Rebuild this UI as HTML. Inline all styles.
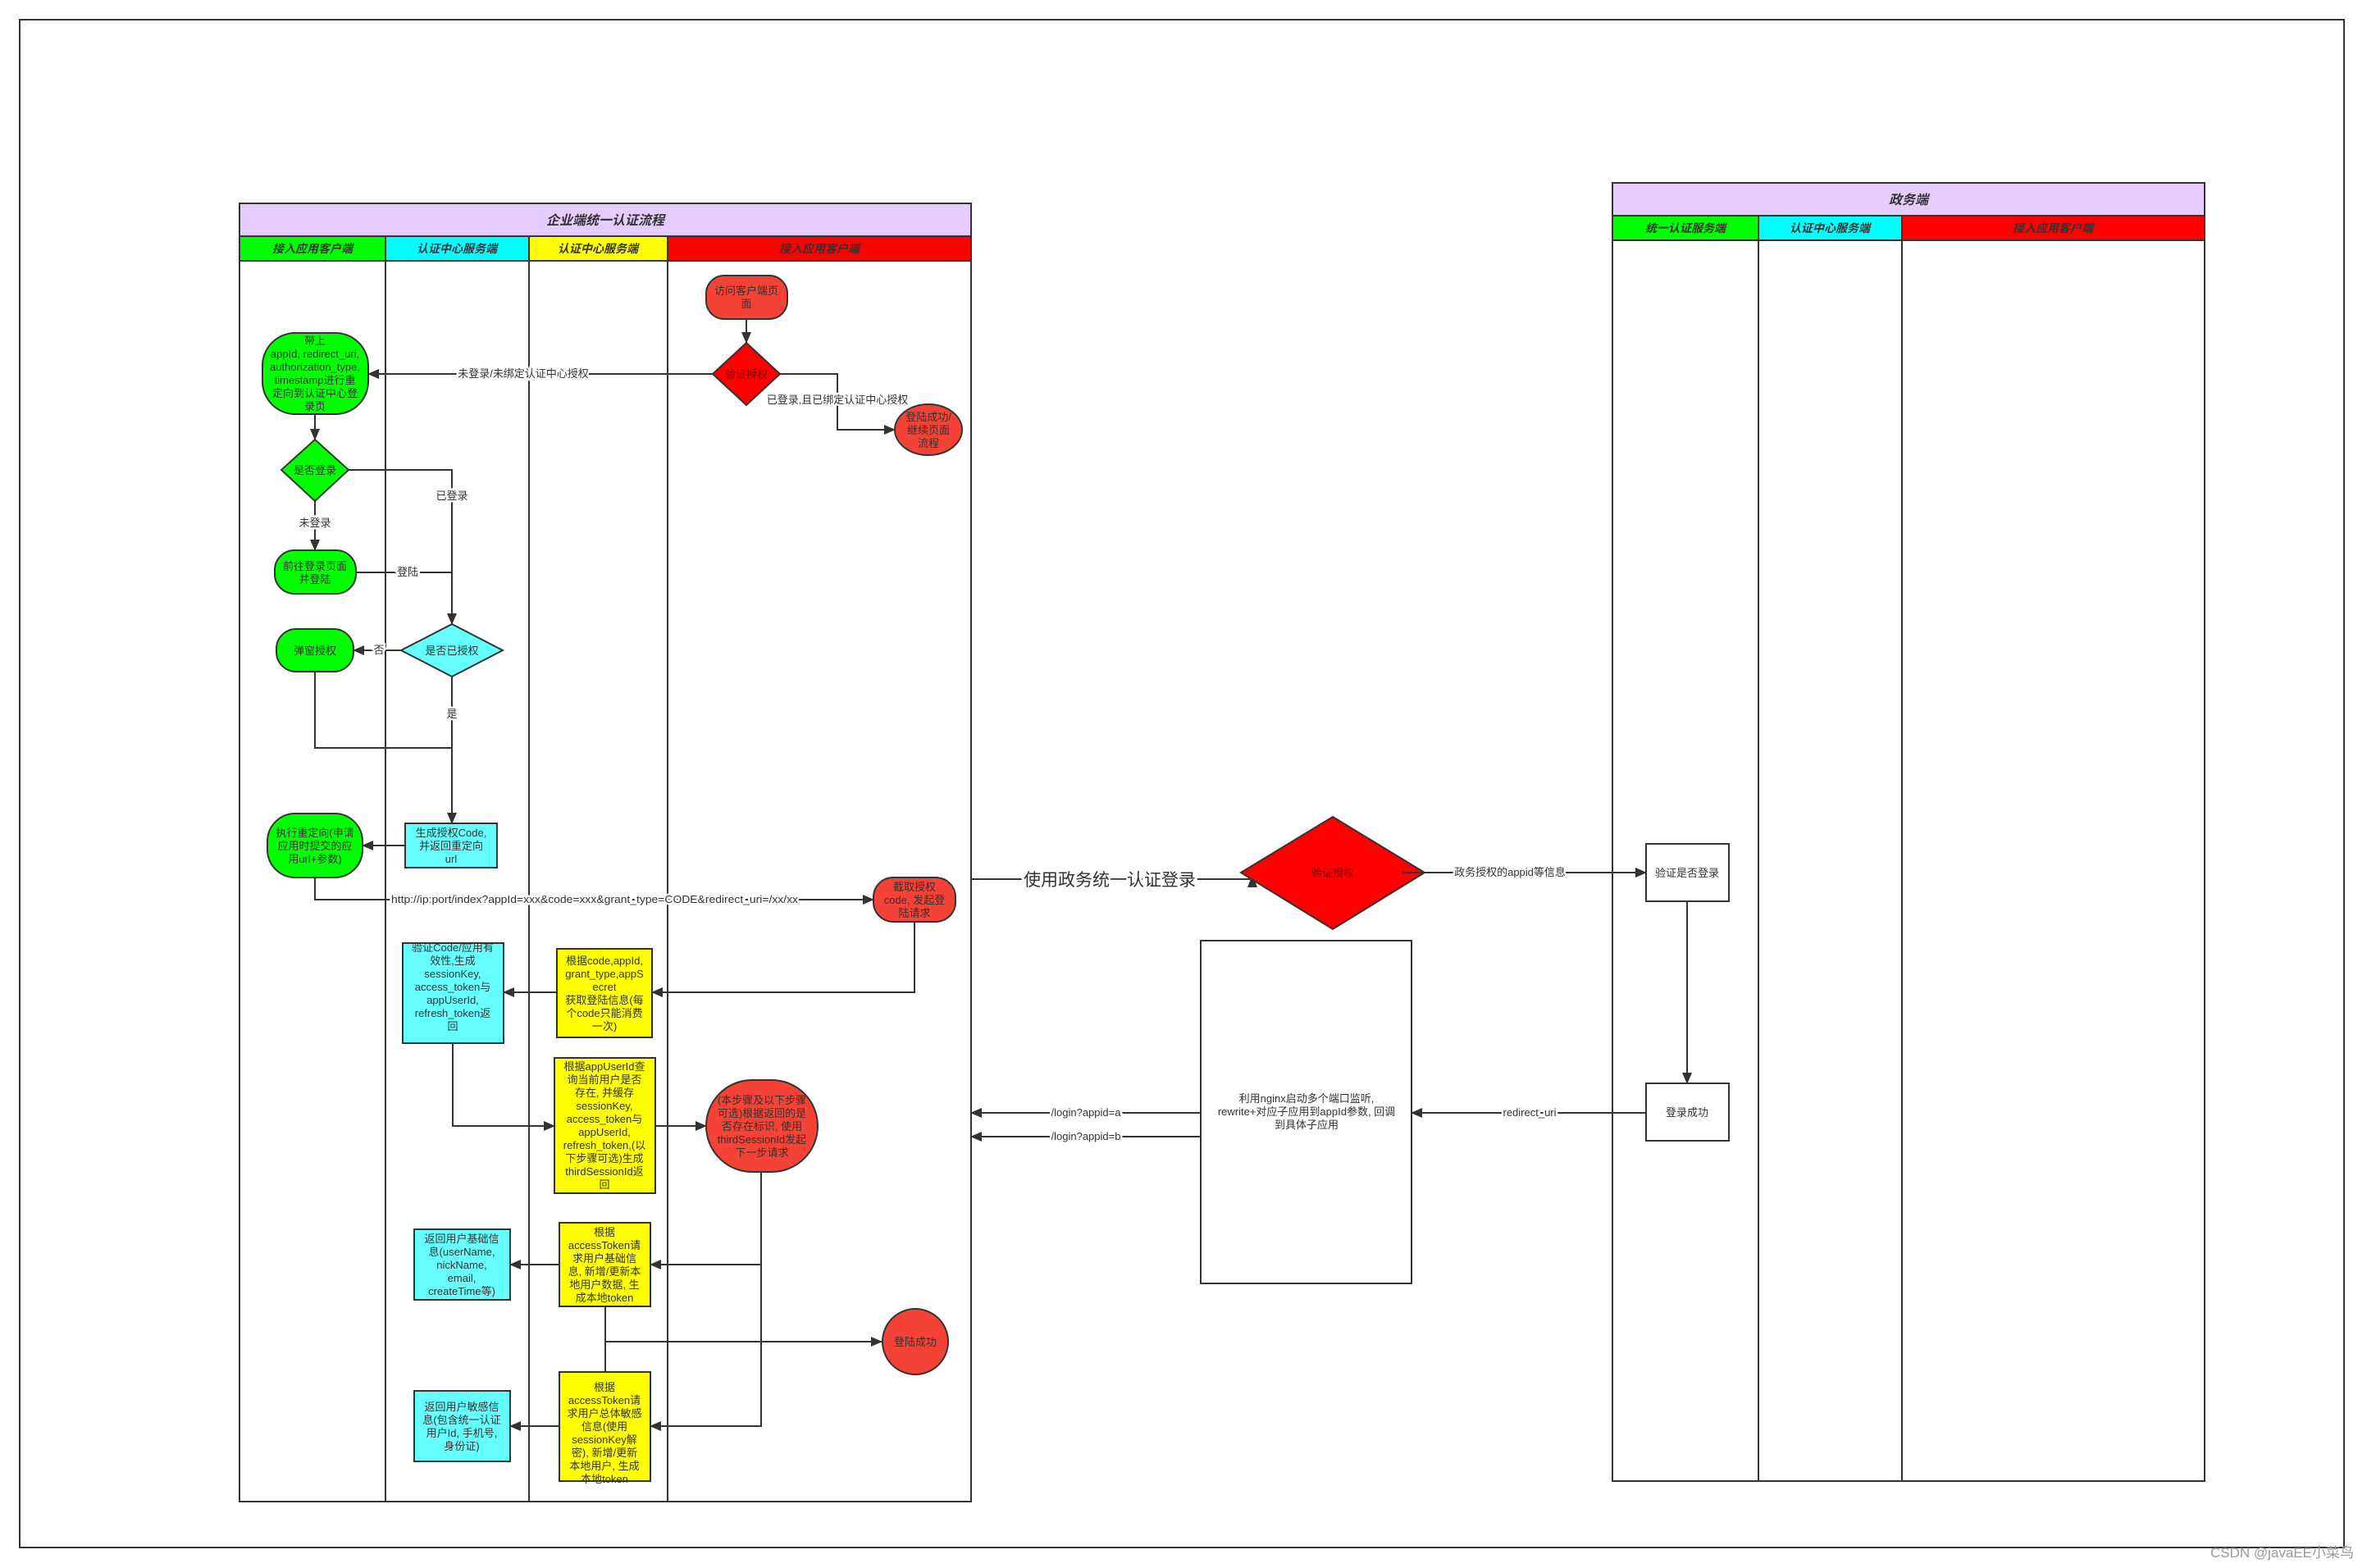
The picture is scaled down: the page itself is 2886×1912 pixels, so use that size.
<!DOCTYPE html>
<html><head><meta charset="utf-8"><style>
html,body{margin:0;padding:0;background:#fff;}
svg{display:block;}
text{font-family:"Liberation Sans","Noto Sans CJK SC",sans-serif;fill:#333;}
.n{font-size:13px;text-anchor:middle;}
.h{font-size:14px;font-style:italic;font-weight:bold;text-anchor:middle;}
.lb{font-size:13px;text-anchor:middle;stroke:#fff;stroke-width:5px;paint-order:stroke;}
.ln{fill:none;stroke:#333;stroke-width:2;}
.bx{stroke:#333;stroke-width:2;}
</style></head><body>
<svg width="2886" height="1912" viewBox="0 0 2886 1912" xmlns="http://www.w3.org/2000/svg">
<defs>
<marker id="a" markerWidth="14" markerHeight="12" refX="13" refY="6" orient="auto" markerUnits="userSpaceOnUse">
<path d="M0,0 L14,6 L0,12 z" fill="#333"/></marker>
</defs>
<rect x="0" y="0" width="2886" height="1912" fill="#fff"/>
<rect x="24" y="24" width="2834" height="1863" fill="none" stroke="#333" stroke-width="2"/>

<!-- LEFT POOL -->
<rect x="292" y="248" width="892" height="40" fill="#e5ccff" class="bx"/>
<text x="738" y="274" class="h" style="font-size:16px">企业端统一认证流程</text>
<rect x="292" y="288" width="178" height="30" fill="#00ff00" class="bx"/>
<rect x="470" y="288" width="175" height="30" fill="#00ffff" class="bx"/>
<rect x="645" y="288" width="169" height="30" fill="#ffff00" class="bx"/>
<rect x="814" y="288" width="370" height="30" fill="#ff0000" class="bx"/>
<text x="381" y="308" class="h">接入应用客户端</text>
<text x="557" y="308" class="h">认证中心服务端</text>
<text x="729" y="308" class="h">认证中心服务端</text>
<text x="999" y="308" class="h">接入应用客户端</text>
<rect x="292" y="318" width="892" height="1513" fill="none" class="bx"/>
<line x1="470" y1="318" x2="470" y2="1831" class="ln"/>
<line x1="645" y1="318" x2="645" y2="1831" class="ln"/>
<line x1="814" y1="318" x2="814" y2="1831" class="ln"/>

<!-- RIGHT POOL -->
<rect x="1966" y="223" width="722" height="40" fill="#e5ccff" class="bx"/>
<text x="2327" y="249" class="h" style="font-size:16px">政务端</text>
<rect x="1966" y="263" width="178" height="30" fill="#00ff00" class="bx"/>
<rect x="2144" y="263" width="175" height="30" fill="#00ffff" class="bx"/>
<rect x="2319" y="263" width="369" height="30" fill="#ff0000" class="bx"/>
<text x="2055" y="283" class="h">统一认证服务端</text>
<text x="2231" y="283" class="h">认证中心服务端</text>
<text x="2503" y="283" class="h">接入应用客户端</text>
<rect x="1966" y="293" width="722" height="1513" fill="none" class="bx"/>
<line x1="2144" y1="293" x2="2144" y2="1806" class="ln"/>
<line x1="2319" y1="293" x2="2319" y2="1806" class="ln"/>

<!-- CONNECTORS LEFT -->
<line x1="910" y1="389" x2="910" y2="418" class="ln" marker-end="url(#a)"/>
<polyline points="869,456 449,456" class="ln" marker-end="url(#a)"/>
<text x="638" y="460" class="lb">未登录/未绑定认证中心授权</text>
<polyline points="951,456 1021,456 1021,524 1091,524" class="ln" marker-end="url(#a)"/>
<text x="1021" y="492" class="lb">已登录,且已绑定认证中心授权</text>
<line x1="384" y1="505" x2="384" y2="536" class="ln" marker-end="url(#a)"/>
<polyline points="425,573 551,573 551,761" class="ln" marker-end="url(#a)"/>
<text x="551" y="609" class="lb">已登录</text>
<line x1="384" y1="611" x2="384" y2="671" class="ln" marker-end="url(#a)"/>
<text x="384" y="642" class="lb">未登录</text>
<polyline points="434,698 551,698" class="ln"/>
<text x="497" y="702" class="lb">登陆</text>
<line x1="489" y1="793" x2="431" y2="793" class="ln" marker-end="url(#a)"/>
<text x="462" y="797" class="lb">否</text>
<polyline points="384,819 384,912 551,912" class="ln"/>
<line x1="551" y1="825" x2="551" y2="1004" class="ln" marker-end="url(#a)"/>
<text x="551" y="875" class="lb">是</text>
<line x1="494" y1="1031" x2="442" y2="1031" class="ln" marker-end="url(#a)"/>
<polyline points="384,1070 384,1097 1065,1097" class="ln" marker-end="url(#a)"/>
<text x="725" y="1101" class="lb" textLength="496" lengthAdjust="spacingAndGlyphs">http://ip:port/index?appId=xxx&amp;code=xxx&amp;grant_type=CODE&amp;redirect_uri=/xx/xx</text>
<polyline points="1115,1124 1115,1210 795,1210" class="ln" marker-end="url(#a)"/>
<line x1="679" y1="1210" x2="614" y2="1210" class="ln" marker-end="url(#a)"/>
<polyline points="552,1272 552,1373 676,1373" class="ln" marker-end="url(#a)"/>
<line x1="799" y1="1373" x2="861" y2="1373" class="ln" marker-end="url(#a)"/>
<polyline points="928,1429 928,1739 793,1739" class="ln" marker-end="url(#a)"/>
<line x1="928" y1="1542" x2="793" y2="1542" class="ln" marker-end="url(#a)"/>
<line x1="682" y1="1542" x2="622" y2="1542" class="ln" marker-end="url(#a)"/>
<line x1="738" y1="1593" x2="738" y2="1673" class="ln"/>
<line x1="738" y1="1636" x2="1075" y2="1636" class="ln" marker-end="url(#a)"/>
<line x1="682" y1="1739" x2="622" y2="1739" class="ln" marker-end="url(#a)"/>

<!-- LEFT NODES -->
<rect x="861" y="336" width="99" height="53" rx="22" fill="#f44336" class="bx"/>
<text class="n" x="910" y="359"><tspan x="910">访问客户端页</tspan><tspan x="910" dy="16">面</tspan></text>
<polygon points="910,418 951,456 910,494 869,456" fill="#ff0000" class="bx"/>
<text class="n" x="910" y="461" style="fill:#7a0000">验证授权</text>
<rect x="320" y="406" width="129" height="99" rx="40" fill="#00ff00" class="bx"/>
<text class="n" x="384" y="420"><tspan x="384">带上</tspan><tspan x="384" dy="16">appId, redirect_uri,</tspan><tspan x="384" dy="16">authorization_type,</tspan><tspan x="384" dy="16">timestamp进行重</tspan><tspan x="384" dy="16">定向到认证中心登</tspan><tspan x="384" dy="16">录页</tspan></text>
<ellipse cx="1132" cy="524" rx="41" ry="31" fill="#f44336" class="bx"/>
<text class="n" x="1132" y="513"><tspan x="1132">登陆成功/</tspan><tspan x="1132" dy="16">继续页面</tspan><tspan x="1132" dy="16">流程</tspan></text>
<polygon points="384,536 425,573 384,611 343,573" fill="#00ff00" class="bx"/>
<text class="n" x="384" y="578">是否登录</text>
<rect x="335" y="671" width="99" height="53" rx="24" fill="#00ff00" class="bx"/>
<text class="n" x="384" y="695"><tspan x="384">前往登录页面</tspan><tspan x="384" dy="16">并登陆</tspan></text>
<polygon points="551,761 613,793 551,825 489,793" fill="#66ffff" class="bx"/>
<text class="n" x="551" y="798">是否已授权</text>
<rect x="337" y="767" width="94" height="52" rx="24" fill="#00ff00" class="bx"/>
<text class="n" x="384" y="798">弹窗授权</text>
<rect x="494" y="1004" width="112" height="54" fill="#66ffff" class="bx"/>
<text class="n" x="550" y="1020"><tspan x="550">生成授权Code,</tspan><tspan x="550" dy="16">并返回重定向</tspan><tspan x="550" dy="16">url</tspan></text>
<rect x="326" y="992" width="116" height="78" rx="34" fill="#00ff00" class="bx"/>
<text class="n" x="384" y="1020"><tspan x="384">执行重定向(申请</tspan><tspan x="384" dy="16">应用时提交的应</tspan><tspan x="384" dy="16">用url+参数)</tspan></text>
<rect x="1065" y="1070" width="100" height="54" rx="24" fill="#f44336" class="bx"/>
<text class="n" x="1115" y="1086"><tspan x="1115">截取授权</tspan><tspan x="1115" dy="16">code, 发起登</tspan><tspan x="1115" dy="16">陆请求</tspan></text>
<rect x="679" y="1157" width="116" height="108" fill="#ffff00" class="bx"/>
<text class="n" x="737" y="1176"><tspan x="737">根据code,appId,</tspan><tspan x="737" dy="16">grant_type,appS</tspan><tspan x="737" dy="16">ecret</tspan><tspan x="737" dy="16">获取登陆信息(每</tspan><tspan x="737" dy="16">个code只能消费</tspan><tspan x="737" dy="16">一次)</tspan></text>
<rect x="491" y="1150" width="123" height="122" fill="#66ffff" class="bx"/>
<text class="n" x="552" y="1160"><tspan x="552">验证Code/应用有</tspan><tspan x="552" dy="16">效性,生成</tspan><tspan x="552" dy="16">sessionKey,</tspan><tspan x="552" dy="16">access_token与</tspan><tspan x="552" dy="16">appUserId,</tspan><tspan x="552" dy="16">refresh_token返</tspan><tspan x="552" dy="16">回</tspan></text>
<rect x="676" y="1290" width="123" height="165" fill="#ffff00" class="bx"/>
<text class="n" x="737" y="1305"><tspan x="737">根据appUserId查</tspan><tspan x="737" dy="16">询当前用户是否</tspan><tspan x="737" dy="16">存在, 并缓存</tspan><tspan x="737" dy="16">sessionKey,</tspan><tspan x="737" dy="16">access_token与</tspan><tspan x="737" dy="16">appUserId,</tspan><tspan x="737" dy="16">refresh_token,(以</tspan><tspan x="737" dy="16">下步骤可选)生成</tspan><tspan x="737" dy="16">thirdSessionId返</tspan><tspan x="737" dy="16">回</tspan></text>
<rect x="861" y="1317" width="136" height="112" rx="56" fill="#f44336" class="bx"/>
<text class="n" x="929" y="1346"><tspan x="929">(本步骤及以下步骤</tspan><tspan x="929" dy="16">可选)根据返回的是</tspan><tspan x="929" dy="16">否存在标识, 使用</tspan><tspan x="929" dy="16">thirdSessionId发起</tspan><tspan x="929" dy="16">下一步请求</tspan></text>
<rect x="682" y="1491" width="111" height="102" fill="#ffff00" class="bx"/>
<text class="n" x="737" y="1507"><tspan x="737">根据</tspan><tspan x="737" dy="16">accessToken请</tspan><tspan x="737" dy="16">求用户基础信</tspan><tspan x="737" dy="16">息, 新增/更新本</tspan><tspan x="737" dy="16">地用户数据, 生</tspan><tspan x="737" dy="16">成本地token</tspan></text>
<rect x="505" y="1499" width="117" height="86" fill="#66ffff" class="bx"/>
<text class="n" x="563" y="1515"><tspan x="563">返回用户基础信</tspan><tspan x="563" dy="16">息(userName,</tspan><tspan x="563" dy="16">nickName,</tspan><tspan x="563" dy="16">email,</tspan><tspan x="563" dy="16">createTime等)</tspan></text>
<circle cx="1116" cy="1636" r="40" fill="#f44336" class="bx"/>
<text class="n" x="1116" y="1641">登陆成功</text>
<rect x="682" y="1673" width="111" height="133" fill="#ffff00" class="bx"/>
<text class="n" x="737" y="1696"><tspan x="737">根据</tspan><tspan x="737" dy="16">accessToken请</tspan><tspan x="737" dy="16">求用户总体敏感</tspan><tspan x="737" dy="16">信息(使用</tspan><tspan x="737" dy="16">sessionKey解</tspan><tspan x="737" dy="16">密), 新增/更新</tspan><tspan x="737" dy="16">本地用户, 生成</tspan><tspan x="737" dy="16">本地token</tspan></text>
<rect x="505" y="1696" width="117" height="86" fill="#66ffff" class="bx"/>
<text class="n" x="563" y="1720"><tspan x="563">返回用户敏感信</tspan><tspan x="563" dy="16">息(包含统一认证</tspan><tspan x="563" dy="16">用户Id, 手机号,</tspan><tspan x="563" dy="16">身份证)</tspan></text>

<!-- MIDDLE / RIGHT -->
<line x1="1184" y1="1072" x2="1527" y2="1072" class="ln"/>
<path d="M1521,1082 L1527,1066 L1533,1082 z" fill="#333"/>
<text x="1353" y="1080" style="font-size:21px;text-anchor:middle;stroke:#fff;stroke-width:6px;paint-order:stroke">使用政务统一认证登录</text>
<polygon points="1625,996 1737,1064 1625,1133 1513,1064" fill="#ff0000" class="bx"/>
<text class="n" x="1625" y="1069" style="fill:#7a0000">验证授权</text>
<line x1="1710" y1="1064" x2="2007" y2="1064" class="ln" marker-end="url(#a)"/>
<text x="1841" y="1068" class="lb">政务授权的appid等信息</text>
<rect x="2007" y="1029" width="101" height="70" fill="#fff" class="bx"/>
<text class="n" x="2057" y="1069">验证是否登录</text>
<line x1="2057" y1="1099" x2="2057" y2="1321" class="ln" marker-end="url(#a)"/>
<rect x="2007" y="1321" width="101" height="70" fill="#fff" class="bx"/>
<text class="n" x="2057" y="1361">登录成功</text>
<line x1="2007" y1="1357" x2="1721" y2="1357" class="ln" marker-end="url(#a)"/>
<text x="1865" y="1361" class="lb">redirect_uri</text>
<rect x="1464" y="1147" width="257" height="418" fill="#fff" class="bx"/>
<text class="n" x="1593" y="1344"><tspan x="1593">利用nginx启动多个端口监听,</tspan><tspan x="1593" dy="16">rewrite+对应子应用到appId参数, 回调</tspan><tspan x="1593" dy="16">到具体子应用</tspan></text>
<line x1="1464" y1="1357" x2="1184" y2="1357" class="ln" marker-end="url(#a)"/>
<text x="1324" y="1361" class="lb">/login?appid=a</text>
<line x1="1464" y1="1386" x2="1184" y2="1386" class="ln" marker-end="url(#a)"/>
<text x="1324" y="1390" class="lb">/login?appid=b</text>

<text x="2870" y="1899" style="font-size:17px;text-anchor:end;fill:#999">CSDN @javaEE小菜鸟</text>
</svg>
</body></html>
